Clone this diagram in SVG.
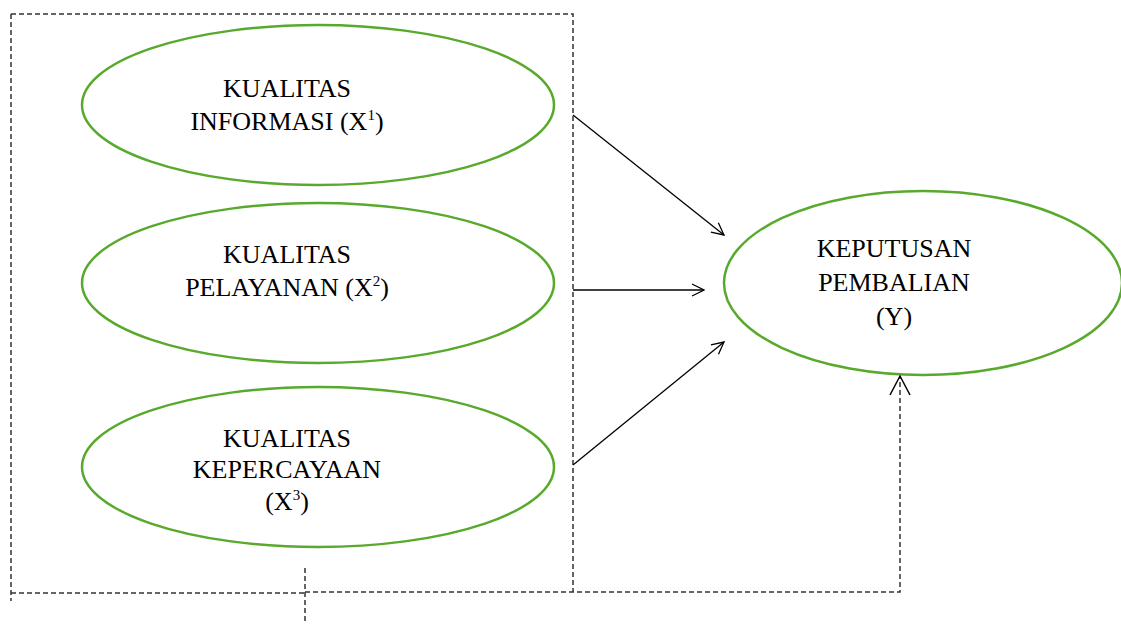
<svg xmlns="http://www.w3.org/2000/svg" width="1121" height="626" viewBox="0 0 1121 626">
<style>
.node ellipse{fill:none;stroke:#58a92c;stroke-width:2.5}
.t{font-family:"Liberation Serif","Times New Roman",serif;font-size:26px;fill:#000;text-anchor:middle}
.s{font-size:15px}
.dash{fill:none;stroke:#333;stroke-width:1.5;stroke-dasharray:5 3}
.arr{fill:none;stroke:#000;stroke-width:1.3}
</style>
<defs>
<marker id="ah" viewBox="0 0 14 14" refX="13" refY="7" markerWidth="14" markerHeight="14" markerUnits="userSpaceOnUse" orient="auto">
<path d="M1,1 L13,7 L1,13" fill="none" stroke="#000" stroke-width="1.3"/>
</marker>
<marker id="ahd" viewBox="0 0 22 22" refX="20" refY="11" markerWidth="22" markerHeight="22" markerUnits="userSpaceOnUse" orient="auto">
<path d="M1,1 L20,11 L1,21" fill="none" stroke="#000" stroke-width="1.5"/>
</marker>
</defs>
<g id="group-box">
<path class="dash" d="M11,14 H573 V592"/>
<path class="dash" d="M11,14 V601"/>
<path class="dash" d="M11,593 H305"/>
</g>
<g id="n1" class="node">
<ellipse cx="318" cy="105" rx="236" ry="80"/>
<text class="t" x="287" y="97">KUALITAS</text>
<text class="t" x="287" y="130">INFORMASI (X<tspan class="s" dy="-10">1</tspan><tspan dy="10">)</tspan></text>
</g>
<g id="n2" class="node">
<ellipse cx="318" cy="283" rx="236" ry="80"/>
<text class="t" x="287" y="263">KUALITAS</text>
<text class="t" x="287" y="296">PELAYANAN (X<tspan class="s" dy="-10">2</tspan><tspan dy="10">)</tspan></text>
</g>
<g id="n3" class="node">
<ellipse cx="318" cy="467" rx="236" ry="80"/>
<text class="t" x="287" y="447">KUALITAS</text>
<text class="t" x="287" y="478">KEPERCAYAAN</text>
<text class="t" x="287" y="510">(X<tspan class="s" dy="-10">3</tspan><tspan dy="10">)</tspan></text>
</g>
<g id="ny" class="node">
<ellipse cx="923" cy="283" rx="199" ry="92"/>
<text class="t" x="894" y="257">KEPUTUSAN</text>
<text class="t" x="894" y="291">PEMBALIAN</text>
<text class="t" x="894" y="325">(Y)</text>
</g>
<g id="connectors">
<line class="arr" x1="573" y1="115" x2="724" y2="235" marker-end="url(#ah)"/>
<line class="arr" x1="573" y1="290" x2="704" y2="290" marker-end="url(#ah)"/>
<line class="arr" x1="573" y1="465" x2="724" y2="342" marker-end="url(#ah)"/>
<path class="dash" d="M305,568 V622"/>
<path class="dash" d="M305,592 H900 V376" marker-end="url(#ahd)"/>
</g>
</svg>
